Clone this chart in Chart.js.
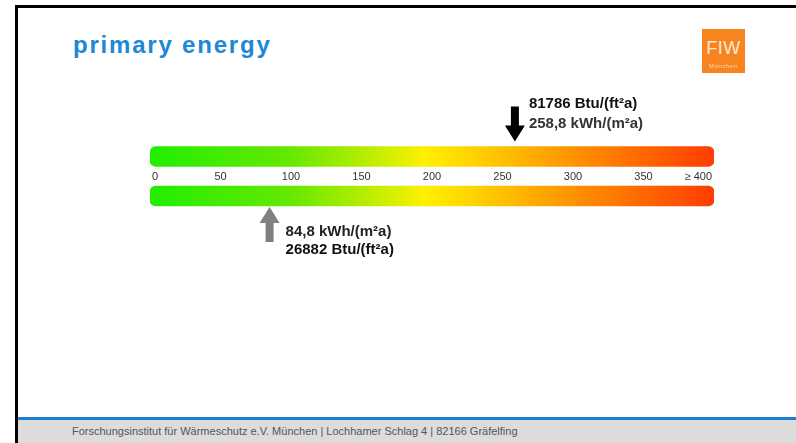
<!DOCTYPE html>
<html>
<head>
<meta charset="utf-8">
<title>primary energy</title>
<script src="https://cdn.jsdelivr.net/npm/chart.js"></script>
<style>
  body { margin: 0; background: #fff; font-family: "Liberation Sans", Arial, sans-serif; }
  .slide { position: relative; width: 796px; height: 443px; overflow: hidden; background: #fff; }
  .frame-top { position: absolute; left: 15px; top: 5px; right: 0; height: 3px; background: #000; }
  .frame-left { position: absolute; left: 15px; top: 5px; bottom: 0; width: 3px; background: #000; }
  .title { position: absolute; left: 73px; top: 33px; line-height: 24px; font-size: 24px; font-weight: bold;
           letter-spacing: 1.8px; color: #1e87d6; }
  .logo { position: absolute; left: 702px; top: 29px; width: 43px; height: 44px; background: #f7841f;
          color: #fff; text-align: center; }
  .logo .big { font-size: 18px; line-height: 18px; margin-top: 10px; letter-spacing: 0.5px; color: #ffe9d6; }
  .logo .small { font-size: 6px; line-height: 6px; margin-top: 6px; letter-spacing: 0.6px; color: #ffd9b3; }
  .footer-line { position: absolute; left: 18px; right: 0; top: 417px; height: 3px; background: #1a7fd0; }
  .footer { position: absolute; left: 18px; right: 0; top: 420px; bottom: 0; background: #dcdcdc; color: #555;
            font-size: 11px; line-height: 23px; padding-left: 54px; }
  #myChart { position: absolute; left: 0; top: 0; }
</style>
</head>
<body>
<div class="slide">
  <div class="frame-top"></div>
  <div class="frame-left"></div>
  <div class="title">primary energy</div>
  <div class="logo"><div class="big">FIW</div><div class="small">München</div></div>
  <canvas id="myChart" width="796" height="443"></canvas>
  <div class="footer-line"></div>
  <div class="footer">Forschungsinstitut für Wärmeschutz e.V. München | Lochhamer Schlag 4 | 82166 Gräfelfing</div>
</div>
<script>
// the two colour scales (upper and lower), both 0 .. 400 kWh/(m²a)
const bars = ['upper', 'lower'];
const barStart = [0, 0];
const barEnd = [400, 400];

// labels printed between the two scales
const tickValues = [0, 50, 100, 150, 200, 250, 300, 350, 400];
const tickLabels = ['0', '50', '100', '150', '200', '250', '300', '350', '\u2265 400'];

// markers: value in kWh/(m²a), the scale they point at, and their two text lines
const markerValues = [258.8, 84.8];
const markerBar = ['upper', 'lower'];
const markerKwh = ['258,8 kWh/(m\u00b2a)', '84,8 kWh/(m\u00b2a)'];
const markerBtu = ['81786 Btu/(ft\u00b2a)', '26882 Btu/(ft\u00b2a)'];

// colour ramp along the scale (value -> colour)
const rampValues = [0, 100, 160, 195, 250, 310, 400];
const rampColors = ['#22ee00', '#66e800', '#c2ee00', '#fff000', '#ffc000', '#ff8a00', '#ff3c00'];

const FONT = '"Liberation Sans", Arial, sans-serif';

function rampGradient(context) {
    const chart = context.chart;
    const x = chart.scales.x;
    if (!chart.chartArea || !x) return rampColors[0];
    const x0 = x.getPixelForValue(0);
    const x1 = x.getPixelForValue(400);
    const g = chart.ctx.createLinearGradient(x0, 0, x1, 0);
    rampValues.forEach((v, i) => g.addColorStop(v / 400, rampColors[i]));
    return g;
}

function drawArrow(ctx, x, tipY, dir, color) {
    // dir = 1 -> pointing down, dir = -1 -> pointing up
    const len = 35, head = 16, halfHead = 10, halfShaft = 4;
    const tail = tipY - dir * len;
    const neck = tipY - dir * head;
    ctx.save();
    ctx.fillStyle = color;
    ctx.beginPath();
    ctx.moveTo(x - halfShaft, tail);
    ctx.lineTo(x + halfShaft, tail);
    ctx.lineTo(x + halfShaft, neck);
    ctx.lineTo(x + halfHead, neck);
    ctx.lineTo(x, tipY);
    ctx.lineTo(x - halfHead, neck);
    ctx.lineTo(x - halfShaft, neck);
    ctx.closePath();
    ctx.fill();
    ctx.restore();
}

const scaleMarks = {
    id: 'scaleMarks',
    afterDatasetsDraw: (chart) => {
        const {ctx} = chart;
        const xScale = chart.scales.x;
        const barMeta = chart.getDatasetMeta(0);
        const markMeta = chart.getDatasetMeta(1);
        const upper = barMeta.data[0];
        const lower = barMeta.data[1];

        // tick labels between the two bars
        const midY = (upper.y + lower.y) / 2 + 1;
        ctx.save();
        ctx.font = '11px ' + FONT;
        ctx.fillStyle = '#333';
        ctx.textBaseline = 'middle';
        tickValues.forEach((v, i) => {
            let px = xScale.getPixelForValue(v);
            if (i === 0) { ctx.textAlign = 'left'; px += 2; }
            else if (i === tickValues.length - 1) { ctx.textAlign = 'right'; px -= 2; }
            else { ctx.textAlign = 'center'; }
            ctx.fillText(tickLabels[i], px, midY);
        });
        ctx.restore();

        // arrows and their texts
        markMeta.data.forEach((pt, i) => {
            const bar = barMeta.data[bars.indexOf(markerBar[i])];
            const top = bar.y - bar.height / 2;
            const bottom = bar.y + bar.height / 2;
            ctx.save();
            ctx.font = 'bold 15px ' + FONT;
            ctx.textAlign = 'left';
            ctx.textBaseline = 'middle';
            if (markerBar[i] === 'upper') {
                drawArrow(ctx, pt.x, top - 5, 1, '#000');
                ctx.fillStyle = '#111';
                ctx.fillText(markerBtu[i], pt.x + 14, top - 43);
                ctx.fillStyle = '#333';
                ctx.fillText(markerKwh[i], pt.x + 14, top - 23);
            } else {
                drawArrow(ctx, pt.x, bottom + 1, -1, '#808080');
                ctx.fillStyle = '#222';
                ctx.fillText(markerKwh[i], pt.x + 16, bottom + 26);
                ctx.fillStyle = '#111';
                ctx.fillText(markerBtu[i], pt.x + 16, bottom + 44);
            }
            ctx.restore();
        });
    }
};

new Chart(document.getElementById('myChart'), {
    data: {
        labels: bars,
        datasets: [{
            type: 'bar',
            label: 'scale',
            data: bars.map((b, i) => [barStart[i], barEnd[i]]),
            backgroundColor: rampGradient,
            barThickness: 20,
            borderRadius: 6,
            borderSkipped: false,
            indexAxis: 'y'
        }, {
            type: 'scatter',
            label: 'markers',
            data: markerValues.map((v, i) => ({x: v, y: markerBar[i]})),
            pointRadius: 0,
            pointHoverRadius: 0
        }]
    },
    options: {
        indexAxis: 'y',
        responsive: false,
        animation: false,
        layout: {
            padding: {left: 150, right: 82, top: 136.75, bottom: 227.25}
        },
        scales: {
            x: {type: 'linear', min: 0, max: 400, display: false},
            y: {type: 'category', labels: bars, offset: true, display: false}
        },
        plugins: {
            legend: {display: false},
            tooltip: {enabled: false}
        }
    },
    plugins: [scaleMarks]
});
</script>
</body>
</html>
